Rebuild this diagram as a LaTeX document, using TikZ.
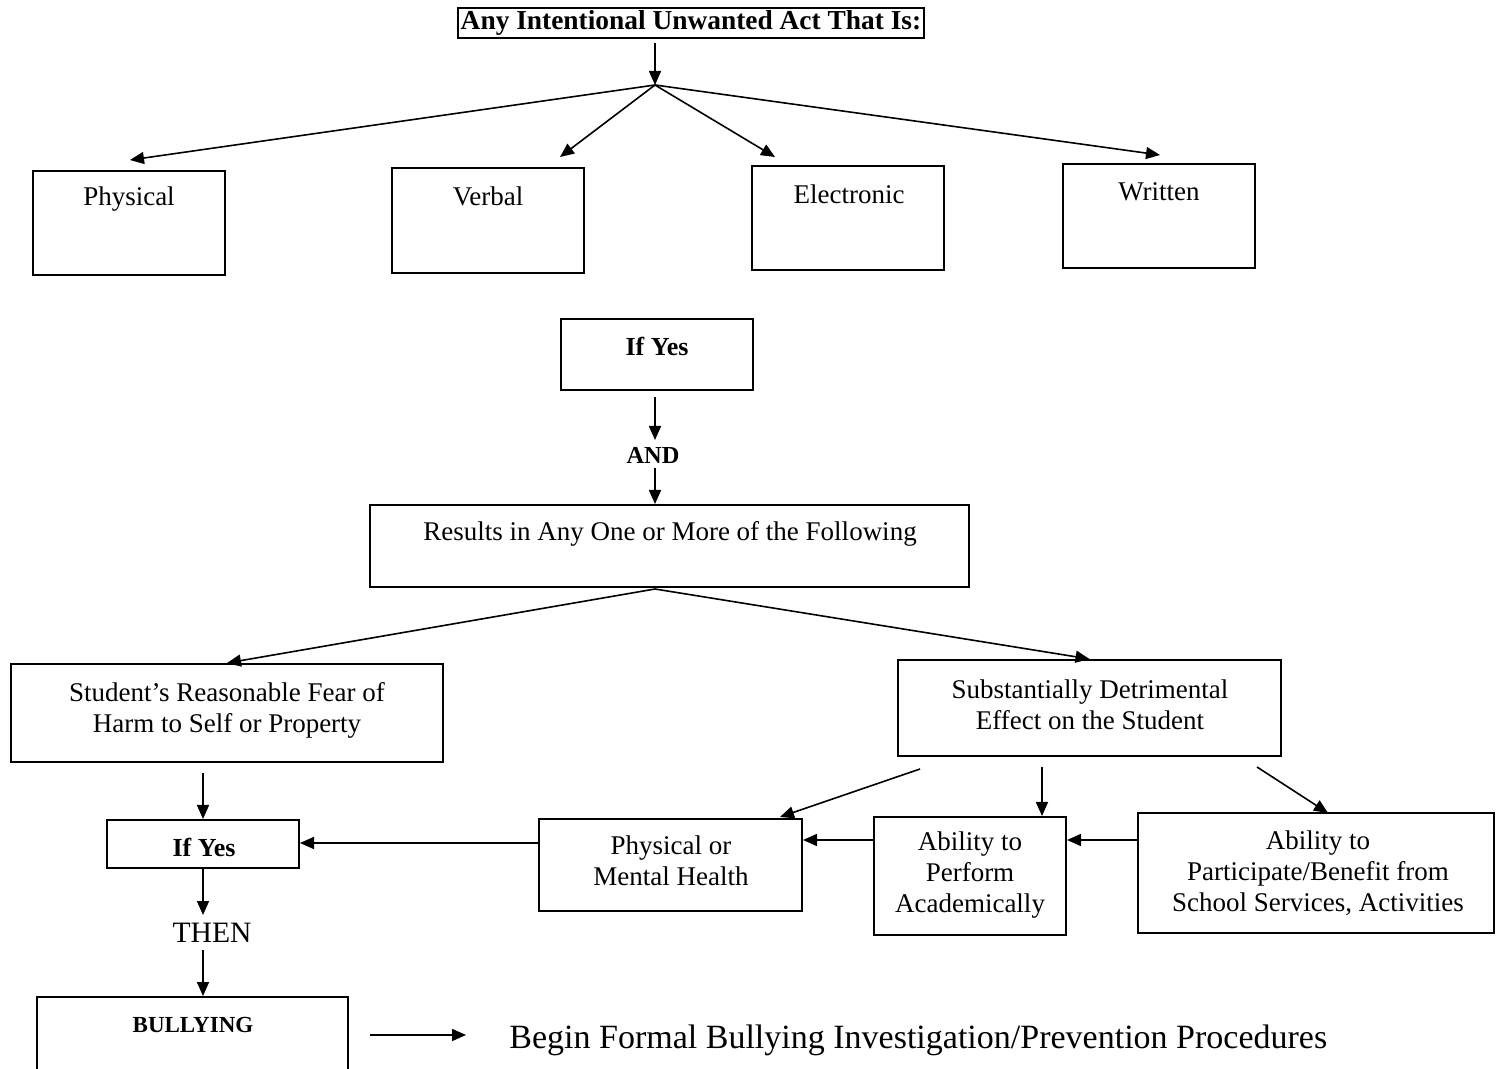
\documentclass[tikz,border=0pt]{standalone}
\usepackage{fontspec}
\setmainfont{Liberation Serif}
\usetikzlibrary{arrows.meta,fit}
\begin{document}
\begin{tikzpicture}[x=0.5pt,y=-0.5pt,
  box/.style={draw, line width=1pt, inner sep=0pt},
  arr/.style={line width=0.8pt, -{Triangle[length=7pt,width=6pt]}},
  txt/.style={font=\fontsize{13.5}{15.5}\selectfont, align=center, inner sep=0pt},
  btxt/.style={font=\fontsize{13}{15}\selectfont\bfseries, align=center, inner sep=0pt},
]
\useasboundingbox (0,0) rectangle (1496,1069);
\fill[white] (0,0) rectangle (1496,1069);

% title
\node[draw, line width=0.8pt, inner sep=0pt, minimum width=233pt, minimum height=15pt,
      font=\fontsize{13.7}{15}\selectfont\bfseries] (title) at (691,23) {Any Intentional Unwanted Act That Is:};
\coordinate (br) at (655,85);

% four kinds
\node[box, fit={(33,171) (225,275)}] (phys) {};
\node[box, fit={(392,168) (584,273)}] (verb) {};
\node[box, fit={(752,166) (944,270)}] (elec) {};
\node[box, fit={(1063,164) (1255,268)}] (writ) {};
\node[txt] (physT) at (129,199) {Physical};
\node[txt] (verbT) at (488,196) {Verbal};
\node[txt] (elecT) at (849,194) {Electronic};
\node[txt] (writT) at (1159,192) {Written};

\coordinate (physIn) at (130,160);
\coordinate (verbIn) at (560,157);
\coordinate (elecIn) at (775,157);
\coordinate (writIn) at (1160,155);

\draw[arr] ([yshift=-2pt]br |- title.south) -- (br);
\draw[arr] (br) -- (physIn);
\draw[arr] (br) -- (verbIn);
\draw[arr] (br) -- (elecIn);
\draw[arr] (br) -- (writIn);

% If Yes (top)
\node[box, fit={(561,319) (753,390)}] (ify1) {};
\node[btxt] (ify1T) at (657,346) {If Yes};
\node[font=\fontsize{12.2}{14}\selectfont\bfseries, inner sep=0pt] (and) at (653,455) {AND};
\coordinate (a1) at (655,397);
\coordinate (a2) at (655,440);
\coordinate (a3) at (655,468);
\draw[arr] (a1) -- (a2);
\draw[arr] (a3) -- (655,504);

% results
\node[box, fit={(370,505) (969,587)}] (res) {};
\node[txt] (resT) at (670,534) {Results in Any One or More of the Following};
\coordinate (rb) at (655,589);

% second level
\node[box, fit={(11,664) (443,762)}] (stud) {};
\node[txt] (studT) at (227,710) {Student’s Reasonable Fear of\\Harm to Self or Property};
\node[box, fit={(898,660) (1281,756)}] (sub) {};
\node[txt] (subT) at (1090,705) {Substantially Detrimental\\Effect on the Student};
\draw[arr] (rb) -- (stud.north);
\draw[arr] (rb) -- (sub.north);

% third level
\node[box, fit={(107,820) (299,868)}] (ify2) {};
\node[btxt] (ify2T) at (204,847) {If Yes};
\node[box, fit={(539,819) (802,911)}] (pmh) {};
\node[txt] (pmhT) at (671,861) {Physical or\\Mental Health};
\node[box, fit={(874,817) (1066,935)}] (apa) {};
\node[txt] (apaT) at (970,875) {Ability to\\Perform\\Academically};
\node[box, fit={(1138,813) (1494,933)}] (apb) {};
\node[txt] (apbT) at (1318,873) {Ability to\\Participate/Benefit from\\School Services, Activities};

\draw[arr] ([yshift=-5pt]ify2 |- stud.south) -- (ify2.north);
\coordinate (h1) at (0,843);
\coordinate (h2) at (0,840);
\draw[arr] (pmh.west |- h1) -- (ify2.east |- h1);
\draw[arr] (apa.west |- h2) -- (pmh.east |- h2);
\draw[arr] (apb.west |- h2) -- (apa.east |- h2);

\coordinate (s1) at (920,769);
\coordinate (s2) at (1042,767);
\coordinate (s3) at (1257,767);
\coordinate (pmhIn) at (780,817);
\coordinate (apbIn) at (1328,813);
\draw[arr] (s1) -- (pmhIn);
\draw[arr] (s2) -- (s2 |- apa.north);
\draw[arr] (s3) -- (apbIn);

% then / bullying
\node[font=\fontsize{14.8}{16}\selectfont, inner sep=0pt] (then) at (212,933) {THEN};
\node[box, fit={(37,997) (348,1075)}] (bull) {};
\node[font=\fontsize{11.5}{13}\selectfont\bfseries, inner sep=0pt] (bullT) at (193,1025) {BULLYING};
\coordinate (t1) at (203,950);
\draw[arr] (ify2.south) -- (203,915);
\draw[arr] (t1) -- (bull.north -| t1);

\node[font=\fontsize{17}{19}\selectfont, inner sep=0pt, anchor=west] (begin) at (509,1040) {Begin Formal Bullying Investigation/Prevention Procedures};
\coordinate (b1) at (370,1035);
\draw[arr] (b1) -- (466,1035);
\end{tikzpicture}
\end{document}
